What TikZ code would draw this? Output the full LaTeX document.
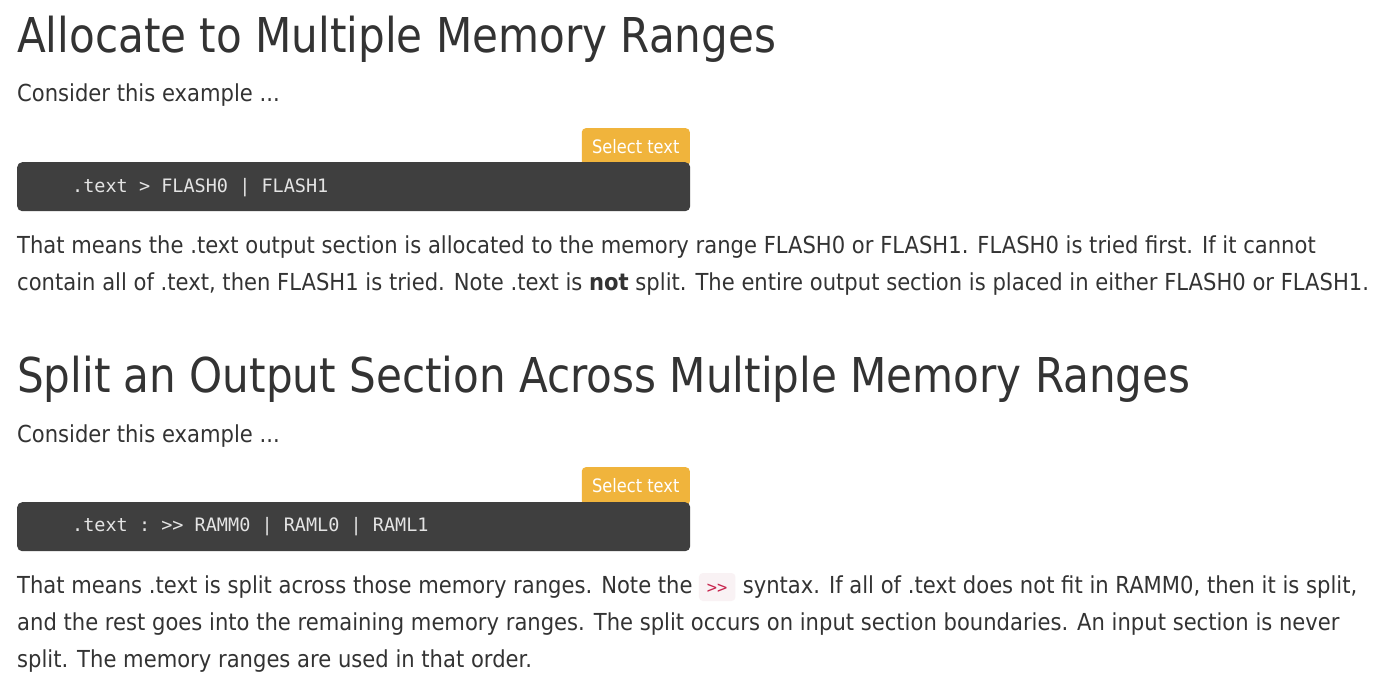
\documentclass[tikz,border=0pt]{standalone}
\usepackage{fontspec}
\setmainfont{DejaVu Sans}[FakeStretch=0.877]
\newfontfamily\bodyfont{DejaVu Sans}[FakeStretch=0.902]
\setmonofont{DejaVu Sans Mono}
\usetikzlibrary{positioning}
\definecolor{bodytext}{HTML}{333333}
\definecolor{codebg}{HTML}{3F3F3F}
\definecolor{codefg}{HTML}{E4E4E4}
\definecolor{btnbg}{HTML}{F0B43C}
\definecolor{inlinebg}{HTML}{F9F2F4}
\definecolor{inlinefg}{HTML}{C7254E}
\protected\def\codesp{\fontdimen2\font=11.14pt\relax}

\begin{document}
\begin{tikzpicture}[x=1pt,y=-1pt]
	\tikzset{heading/.style={anchor=base west,inner sep=0pt,text=bodytext,font=\fontsize{48}{58}\selectfont}}
	\tikzset{para/.style={anchor=base west,inner sep=0pt,text=bodytext,font=\bodyfont\fontsize{23.4}{37}\selectfont}}
	\tikzset{codebox/.style={anchor=north west,fill=codebg,rounded corners=5pt,minimum width=673pt,minimum height=49pt,inner sep=0pt}}
	\tikzset{codetext/.style={anchor=base west,inner sep=0pt,text=codefg,font=\ttfamily\fontsize{18.5}{22}\selectfont\codesp}}
	\tikzset{selbtn/.style={anchor=north east,fill=btnbg,rounded corners=4pt,text=white,font=\fontsize{18.5}{22}\selectfont,minimum width=108pt,minimum height=38pt,inner sep=0pt,text height=12pt,text depth=0pt}}
	\tikzset{inlinecode/.style={fill=inlinebg,rounded corners=4pt,text=inlinefg,font=\ttfamily\fontsize{17}{20}\selectfont,inner xsep=8pt,inner ysep=6pt,text height=14pt,text depth=2pt}}
	\useasboundingbox[fill=white] (0,0) rectangle (1381,682);
	% first section
	\node[heading] (head1) at (17,53) {Allocate to Multiple Memory Ranges};
	\node[para] (cons1) at (17,102) {Consider this example ...};
	\node[selbtn] (btn1) at (690,128) {Select text};
	\node[codebox] (code1) at (17,162) {};
	\node[codetext] (code1txt) at ([xshift=55pt,yshift=-30pt]code1.north west) {.text > FLASH0 | FLASH1};
	\node[para] (p1a) at (17,253) {That means the .text output section is allocated to the memory range FLASH0 or FLASH1. FLASH0 is tried first. If it cannot};
	\node[para] (p1b) at (17,290) {contain all of .text, then FLASH1 is tried. Note .text is \textbf{not} split. The entire output section is placed in either FLASH0 or FLASH1.};
	% second section
	\node[heading] (head2) at (17,392) {Split an Output Section Across Multiple Memory Ranges};
	\node[para] (cons2) at (17,442) {Consider this example ...};
	\node[selbtn] (btn2) at (690,467) {Select text};
	\node[codebox] (code2) at (17,502) {};
	\node[codetext] (code2txt) at ([xshift=55pt,yshift=-29pt]code2.north west) {.text : >{}> RAMM0 | RAML0 | RAML1};
	\node[para] (p2a) at (17,593) {That means .text is split across those memory ranges. Note the};
	\node[inlinecode,right=6pt of p2a.base east,anchor=base west] (p2code) {>{}>};
	\node[para,right=7pt of p2code.base east,anchor=base west] (p2b) {syntax. If all of .text does not fit in RAMM0, then it is split,};
	\node[para] (p2c) at (17,630) {and the rest goes into the remaining memory ranges. The split occurs on input section boundaries. An input section is never};
	\node[para] (p2d) at (17,667) {split. The memory ranges are used in that order.};
\end{tikzpicture}
\end{document}
